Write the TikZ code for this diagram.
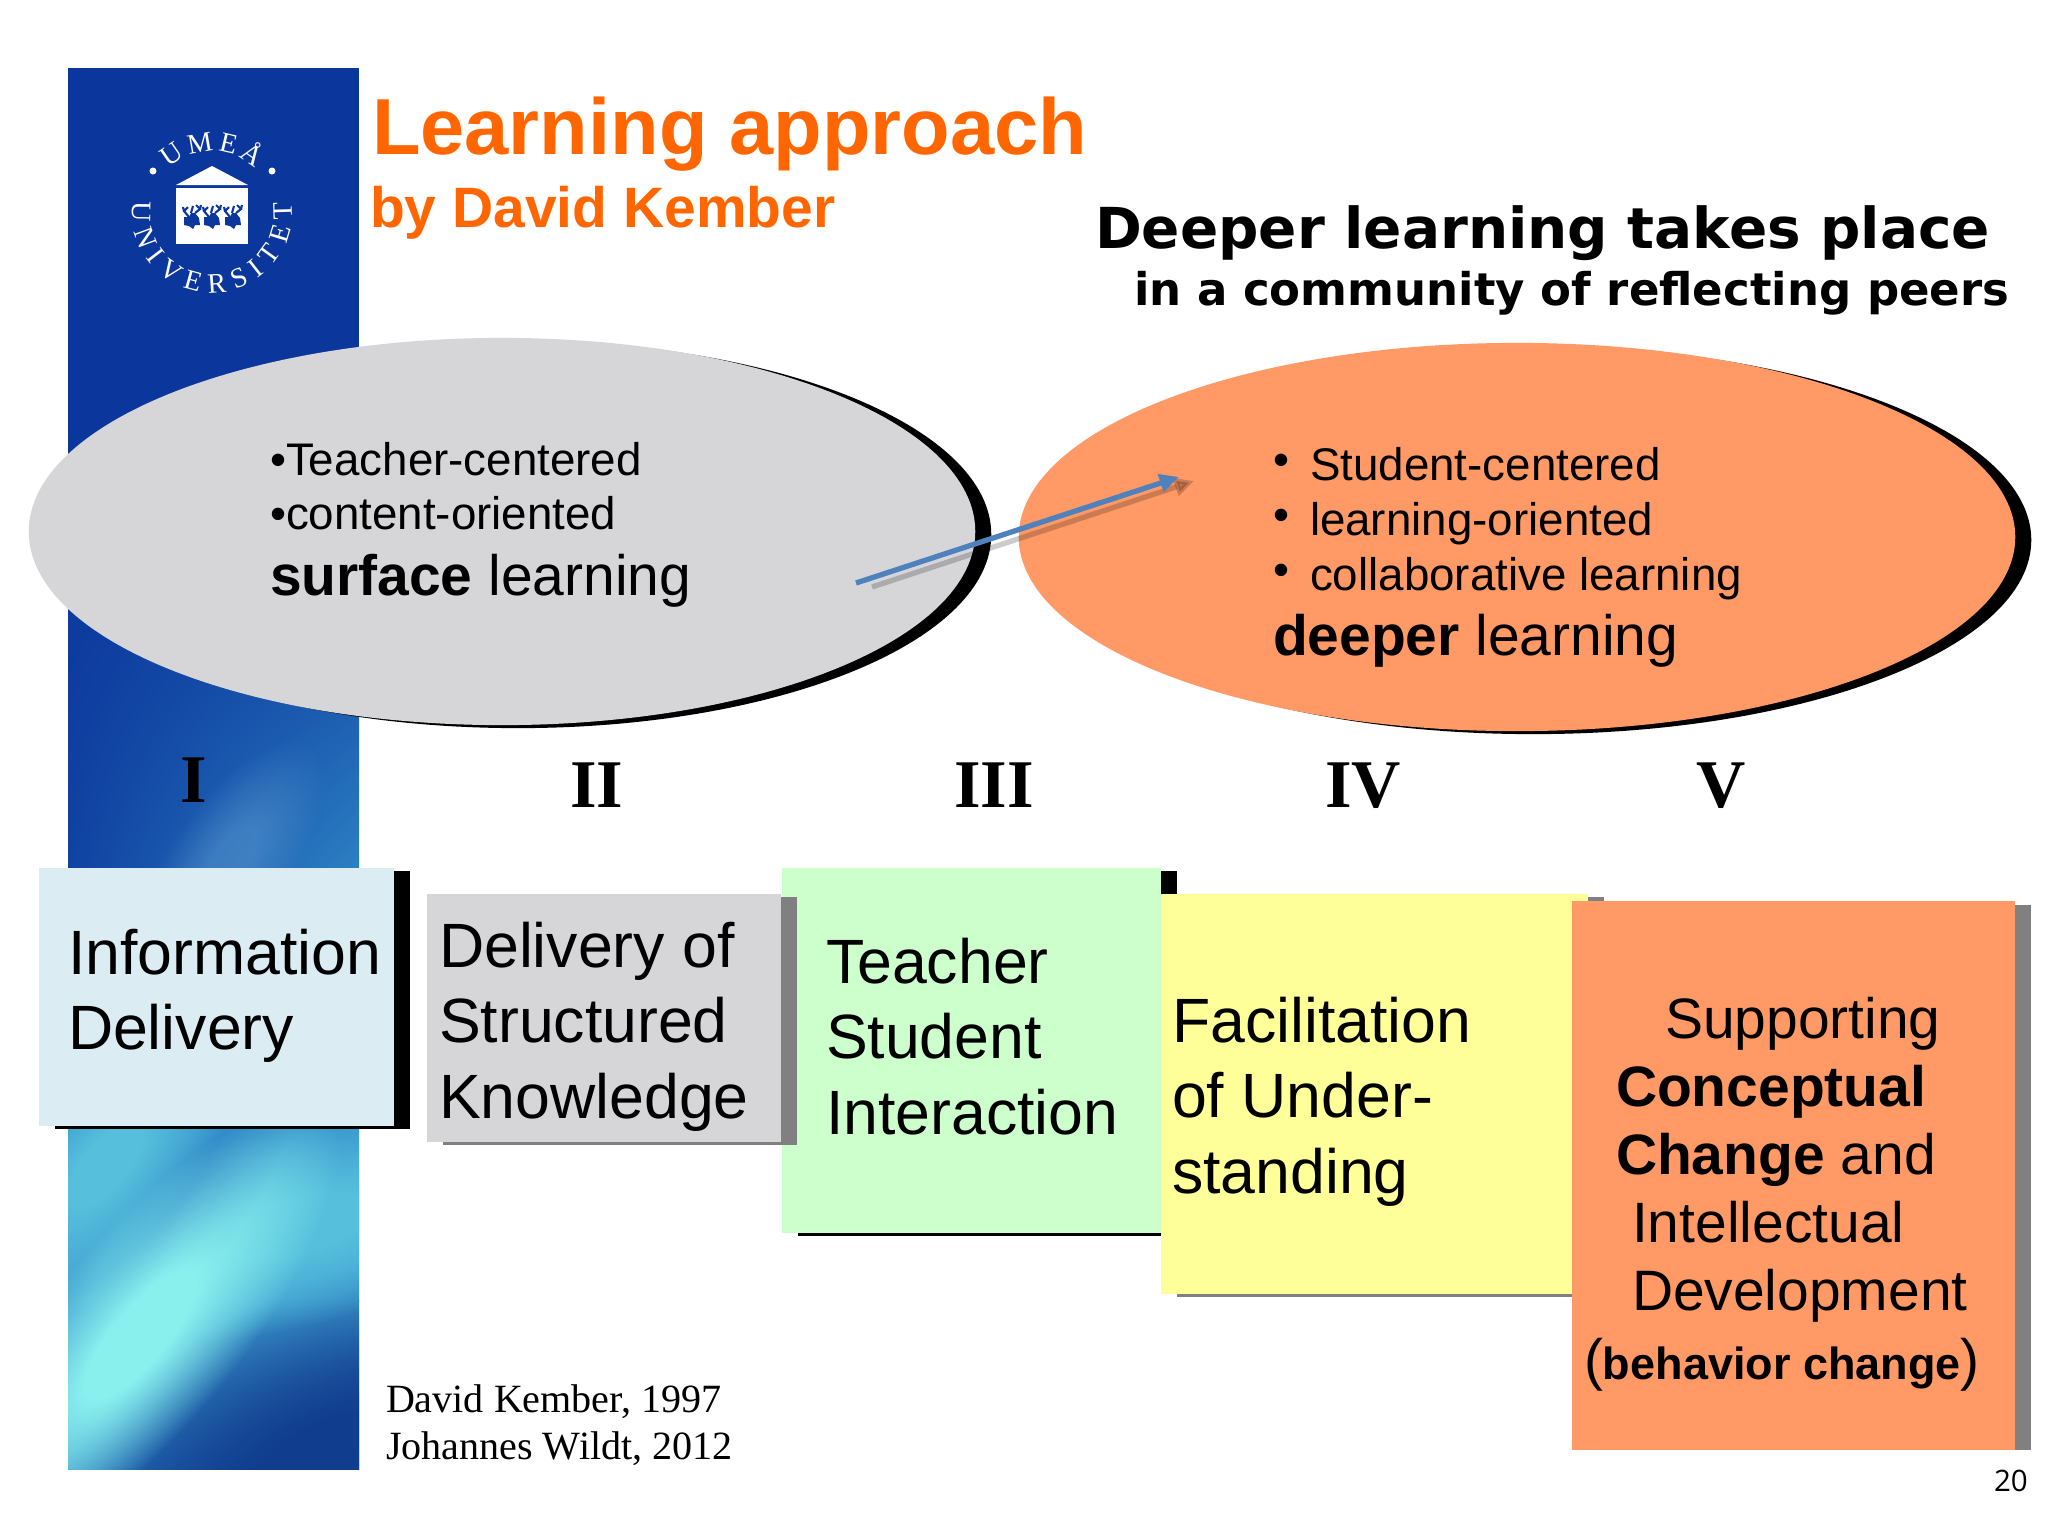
\documentclass[tikz,border=0pt]{standalone}
\usepackage{fontspec}
\setmainfont{Liberation Sans}
\newfontfamily\timesfont{Liberation Serif}
\newfontfamily\dejafont{DejaVu Sans}
\newfontfamily\slidenofont{Open Sans}
\usepackage{xcolor}
\usetikzlibrary{arrows.meta,shapes.geometric,shadows,shadings,fadings,decorations.text}

\definecolor{stripnavy}{HTML}{0B379C}
\definecolor{stripmid}{HTML}{2C80C3}
\definecolor{stripdark}{HTML}{113D8F}
\definecolor{stripwash}{HTML}{3F9FD2}
\definecolor{stripband}{HTML}{55BFDC}
\definecolor{stripglow}{HTML}{8AF0EE}
\definecolor{titleorange}{HTML}{FF6600}
\definecolor{ovalgray}{HTML}{D6D5D8}
\definecolor{ovalorange}{HTML}{FF9966}
\definecolor{boxblue}{HTML}{DBEDF3}
\definecolor{boxgreen}{HTML}{CCFFCC}
\definecolor{boxyellow}{HTML}{FFFF99}
\definecolor{arrowblue}{HTML}{4F81BD}

\pgfdeclareradialshading{softplateau}{\pgfpointorigin}{color(0bp)=(pgftransparent!0); color(7bp)=(pgftransparent!0); color(25bp)=(pgftransparent!100); color(50bp)=(pgftransparent!100)}
\pgfdeclarefading{softspot}{\pgfuseshading{softplateau}}

\tikzset{
    blockbox/.style={rectangle, anchor=north west, inner sep=0pt, outer sep=0pt,
        general shadow={fill=#1, shadow xshift=0.16cm, shadow yshift=-0.03cm}},
    plainbox/.style={rectangle, anchor=north west, inner sep=0pt, outer sep=0pt},
    oval/.style={ellipse, inner sep=0pt, outer sep=0pt,
        general shadow={fill=black, shadow xshift=0.16cm, shadow yshift=-0.03cm}},
    textline/.style={anchor=base west, inner sep=0pt, outer sep=0pt},
    bodyfont/.style={font=\fontsize{17.8}{21}\selectfont},
    smallfont/.style={font=\fontsize{13}{15}\selectfont},
    midfont/.style={font=\fontsize{16.2}{19}\selectfont},
    numeral/.style={anchor=base, inner sep=0pt, outer sep=0pt, font=\timesfont\bfseries\fontsize{19.4}{23}\selectfont},
    softstreak/.style={path fading=softspot, fit fading=true}
}

\begin{document}
\begin{tikzpicture}[x=0.01cm,y=-0.01cm]
    \path[use as bounding box, fill=white] (0,0) rectangle (2048,1536);

    % Blue strip
    \fill[stripnavy] (68,68) rectangle (359,501);
    \shade[upper left=stripnavy, upper right=stripnavy, lower left=stripnavy!85!stripmid, lower right=stripmid] (68,500) rectangle (359,869);
    \shade[upper left=stripmid, upper right=stripmid, lower left=stripwash, lower right=stripwash] (68,868) rectangle (359,1301);
    \shade[upper left=stripwash, upper right=stripwash, lower left=stripmid, lower right=stripdark] (68,1300) rectangle (359,1469);

    % Streaks in the strip
    \begin{scope}
        \clip (68,68) rectangle (359,1469);
        \foreach \cx/\cy/\rx/\ry/\ang/\hue/\op in {
            330/1480/340/190/30/stripdark/1,
            300/1225/260/100/15/stripband/1,
            190/1215/170/50/55/stripmid/0.7,
            105/1165/190/80/50/stripband/1,
            140/1335/290/95/50/stripglow/1,
            230/860/140/60/55/stripmid!70!white/0.4
        } {
            \fill[\hue, opacity=\op, softstreak, transform canvas={rotate around={\ang:(\cx,\cy)}}] (\cx,\cy) ellipse ({\rx} and {\ry});
        }
    \end{scope}

    % University seal
    \begin{scope}[shift={(212,213)}, yscale=-1]
        \path[decorate, decoration={text along path, text align={fit to path},
            text={|\timesfont\fontsize{8}{10}\selectfont\color{white}|UMEÅ}}] (134:62) arc (134:46:62);
        \path[decorate, decoration={text along path, text align={fit to path},
            text={|\timesfont\fontsize{8}{10}\selectfont\color{white}|UNIVERSITET}}] (172:80) arc (172:368:80);
        \fill[white] (-59,42) circle (3.5) (60,42) circle (3.5);
        \fill[white] (-36,28) -- (36,28) -- (0,47) -- cycle;
        \fill[white] (-36,25) rectangle (36,-31);
        \foreach \deer in {-20,0,21} {
            \fill[stripnavy, shift={(\deer,-2)}] (-8,-2) -- (-3,-2) -- (-1,2) -- (3,2) -- (7,-3) -- (8,-10) -- (3,-10) -- (1,-14) -- (-3,-11) -- (-8,-10) -- cycle;
            \draw[stripnavy, line width=0.6pt, shift={(\deer,-2)}] (-3,-2) -- (-8,4) -- (-4,8) (-8,4) -- (-9,8) (3,2) -- (8,6) -- (4,10) (8,6) -- (9,10) (-1,2) -- (1,9);
        }
    \end{scope}

    % Titles
    \node[textline, text=titleorange, font=\bfseries\fontsize{22.6}{26}\selectfont] (title) at (372,154) {Learning approach};
    \node[textline, text=titleorange, font=\bfseries\fontsize{16.2}{20}\selectfont] (subtitle) at (370,227) {by David Kember};
    \node[textline, font=\dejafont\bfseries\fontsize{16.05}{19}\selectfont] (claimtop) at (1095,248) {Deeper learning takes place};
    \node[textline, font=\dejafont\bfseries\fontsize{12.8}{15}\selectfont] (claimsub) at (1134,305) {in a community of reflecting peers};

    % Ovals
    \node[oval, fill=ovalgray, minimum width=9.46cm, minimum height=3.87cm] (surface) at (502,531.5) {};
    \node[oval, fill=ovalorange, minimum width=9.96cm, minimum height=3.88cm] (deeper) at (1517,537) {};

    \node[textline, smallfont] (teacher) at (270,475) {•Teacher-centered};
    \node[textline, smallfont] (content) at (270,529) {•content-oriented};
    \node[textline, midfont] (surfacelabel) at (270,595) {\textbf{surface} learning};

    \foreach \i/\ypos/\linetext in {
        student/480/Student-centered,
        oriented/535/learning-oriented,
        collab/590/collaborative learning
    } {
        \node[textline, smallfont] (\i) at (1310,\ypos) {\linetext};
        \node[textline, smallfont] (bullet\i) at (1273,\ypos-5) {•};
    }
    \node[textline, midfont] (deeperlabel) at (1273,655) {\textbf{deeper} learning};

    % Arrow across the ovals
    \coordinate (shadestart) at (872,587);
    \coordinate (shadeend) at (1194,481);
    \coordinate (arrowstart) at (856,583);
    \coordinate (arrowend) at (1179,477);
    \draw[-{Triangle[length=5.5pt,width=5pt]}, line width=1.5pt, black, opacity=0.2] (shadestart) -- (shadeend);
    \draw[-{Triangle[length=5.5pt,width=5pt]}, line width=1.5pt, arrowblue] (arrowstart) -- (arrowend);

    % Roman numerals
    \node[numeral] (stepone) at (194,802) {I};
    \foreach \i/\xpos/\num in {two/597/II, three/994/III, four/1363/IV, five/1721/V} {
        \node[numeral] (step\i) at (\xpos,807) {\num};
    }

    % Stage boxes
    \node[blockbox=black, fill=boxblue, minimum width=3.55cm, minimum height=2.58cm] (infobox) at (39,868) {};
    \node[blockbox=black, fill=boxgreen, minimum width=3.79cm, minimum height=3.65cm] (interactbox) at (782,868) {};
    \node[blockbox=black!50, fill=ovalgray, minimum width=3.54cm, minimum height=2.48cm] (structbox) at (427,894) {};
    \node[blockbox=black!50, fill=boxyellow, minimum width=4.27cm, minimum height=4.00cm] (facilbox) at (1161,894) {};
    \node[plainbox, fill=black!50, minimum width=0.16cm, minimum height=5.45cm] (changeshade) at (2015,905) {};
    \node[plainbox, fill=ovalorange, minimum width=4.43cm, minimum height=5.49cm] (changebox) at (1572,901) {};

    % Box texts
    \foreach \i/\xpos/\ypos/\linetext in {
        a/68/974/Information,
        b/68/1049/Delivery,
        c/439/967/Delivery of,
        d/439/1042/Structured,
        e/439/1118/Knowledge,
        f/826/983/Teacher,
        g/826/1058/Student,
        h/826/1134/Interaction,
        i/1172/1042/Facilitation,
        j/1172/1117/of Under-,
        k/1172/1193/standing
    } {
        \node[textline, bodyfont] (label\i) at (\xpos,\ypos) {\linetext};
    }
    \foreach \i/\xpos/\ypos/\linetext in {
        a/1665/1038/Supporting,
        b/1616/1106/\textbf{Conceptual},
        c/1616/1174/\textbf{Change} and,
        d/1632/1242/Intellectual,
        e/1632/1310/Development
    } {
        \node[textline, midfont] (change\i) at (\xpos,\ypos) {\linetext};
    }
    \node[textline, midfont] (behavior) at (1584,1379) {(\fontsize{12.8}{15}\selectfont\textbf{behavior change}\fontsize{16.2}{19}\selectfont)};

    % Sources and slide number
    \node[textline, font=\timesfont\fontsize{11.4}{13}\selectfont] (sourcea) at (386,1412) {David Kember, 1997};
    \node[textline, font=\timesfont\fontsize{11.4}{13}\selectfont] (sourceb) at (386,1459) {Johannes Wildt, 2012};
    \node[textline, font=\slidenofont\fontsize{8.4}{10}\selectfont] (slideno) at (1994,1491) {20};
\end{tikzpicture}
\end{document}
